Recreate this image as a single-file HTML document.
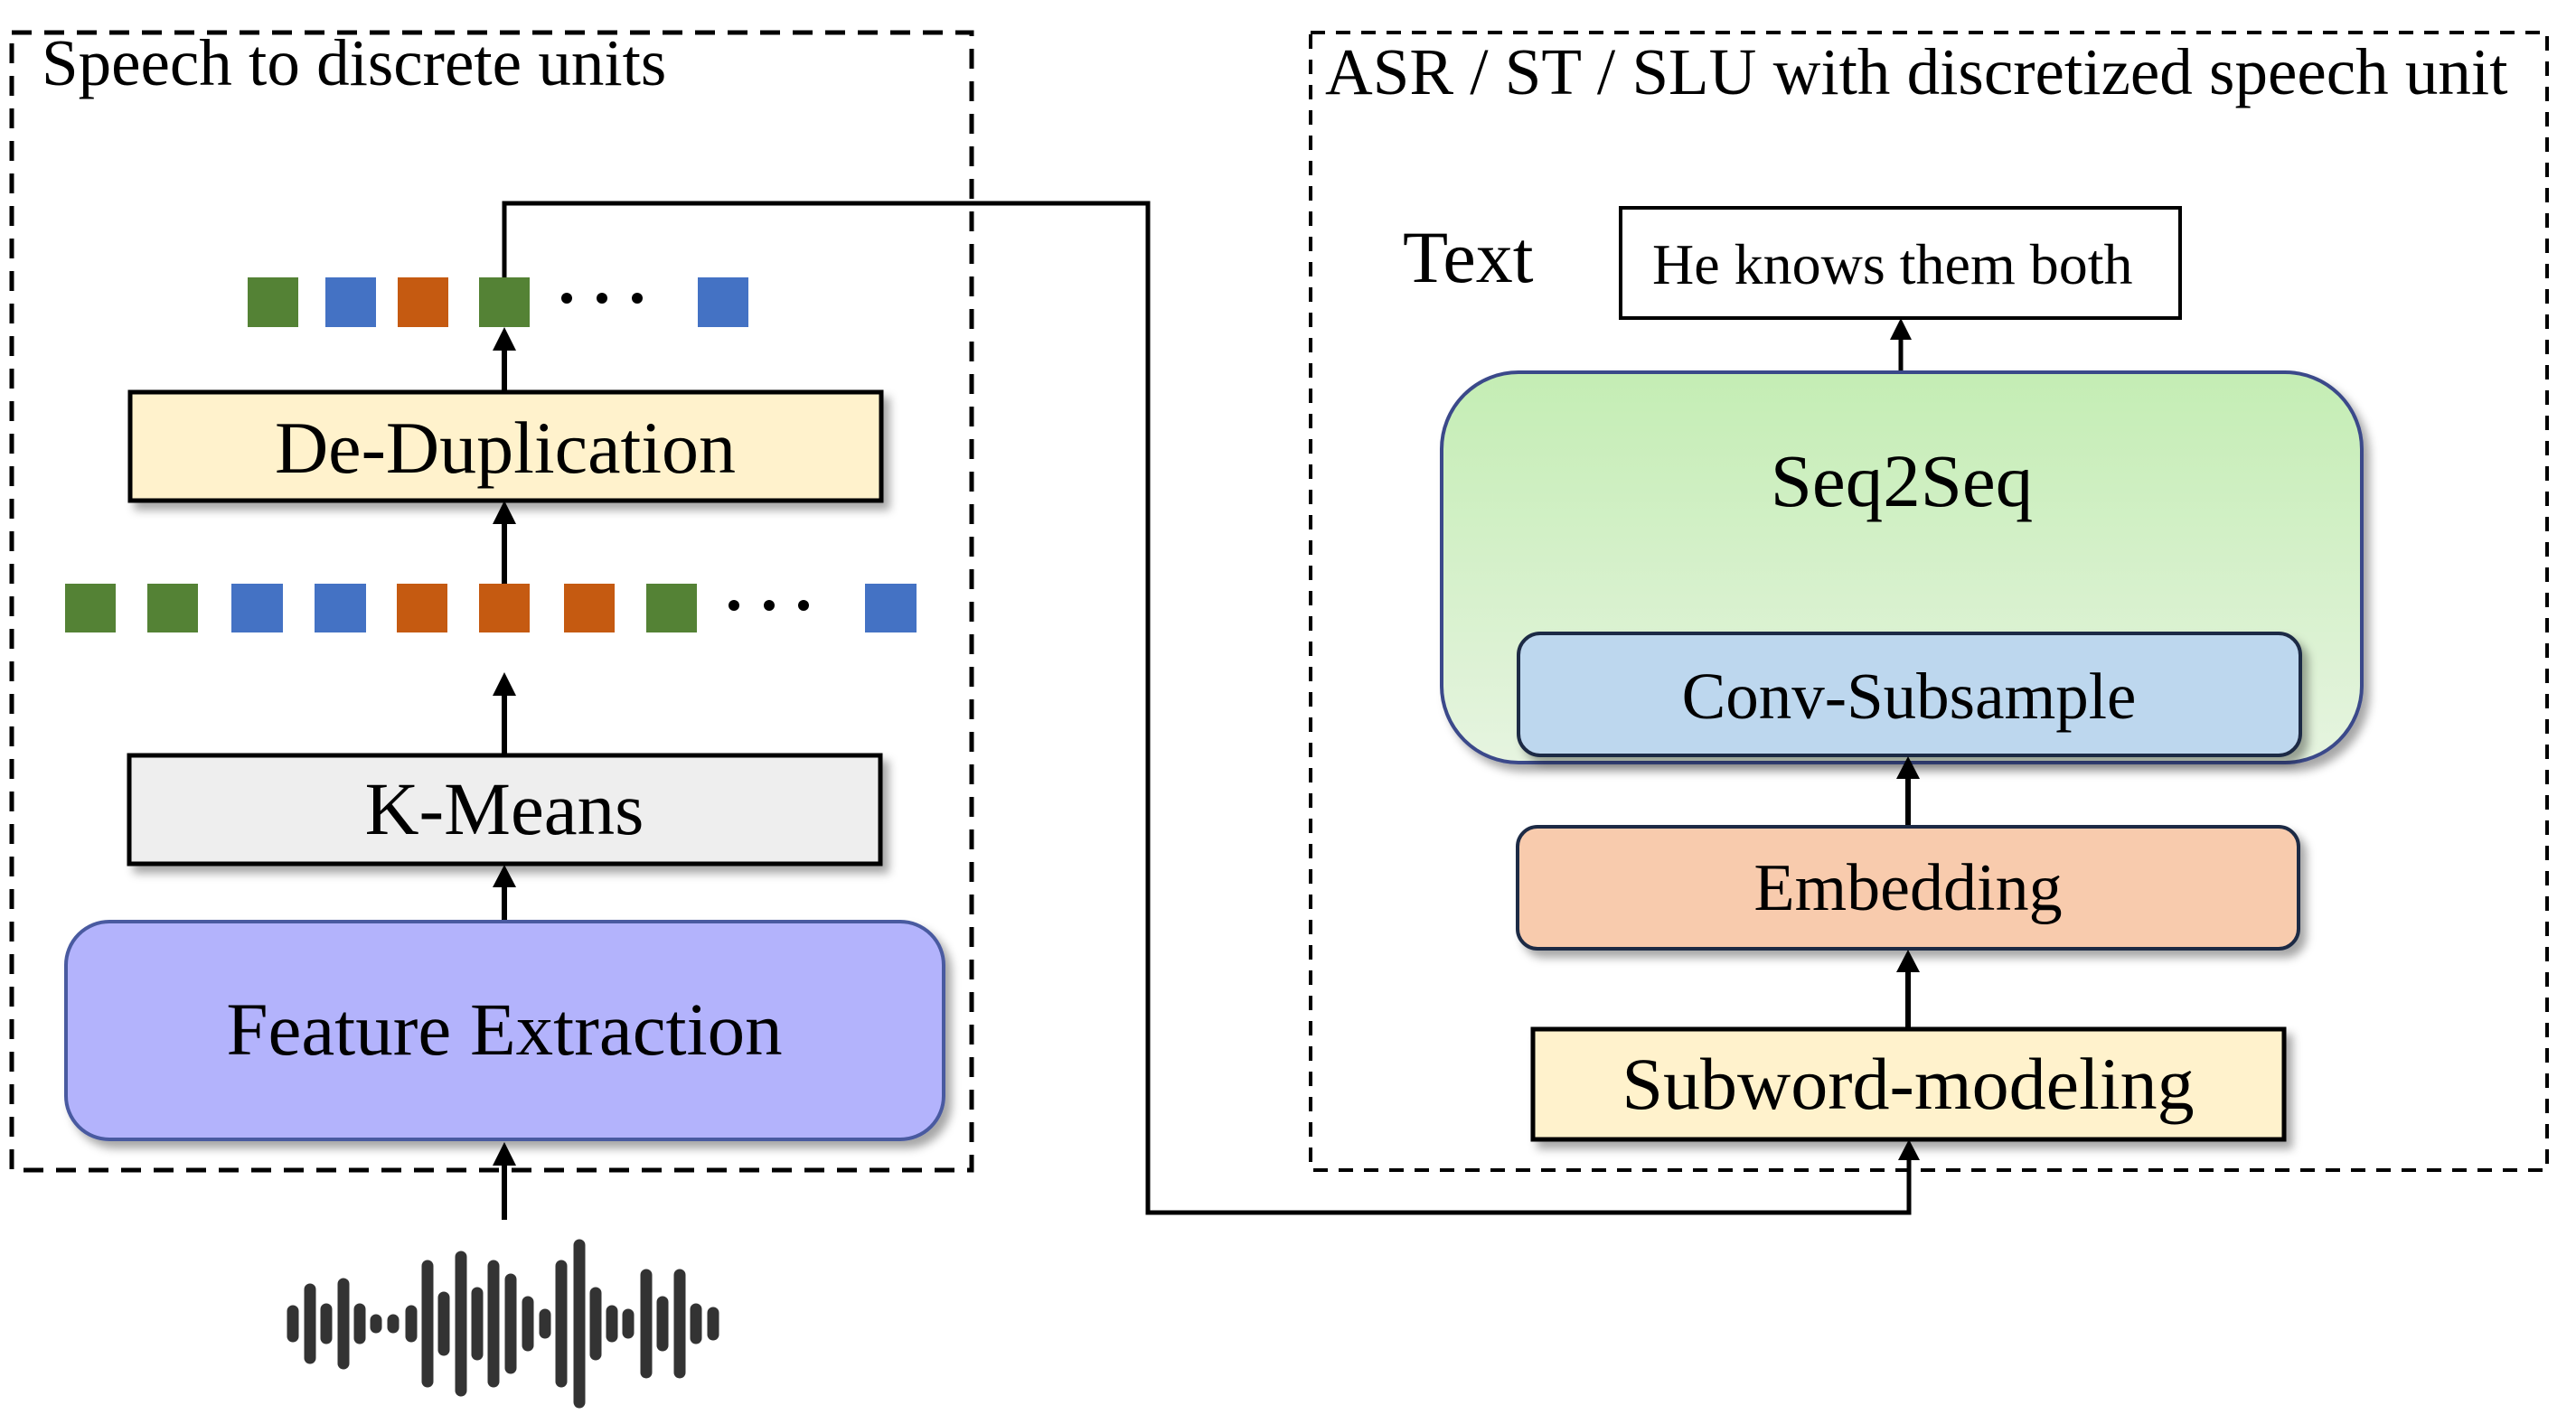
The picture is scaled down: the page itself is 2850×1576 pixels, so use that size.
<!DOCTYPE html>
<html><head><meta charset="utf-8"><style>
html,body{margin:0;padding:0;background:#fff;}
svg{display:block;}
text{font-family:"Liberation Serif",serif;fill:#000;}
</style></head><body>
<svg width="2850" height="1576" viewBox="0 0 2850 1576" xmlns="http://www.w3.org/2000/svg">
<defs>
<filter id="sh" x="-10%" y="-10%" width="130%" height="140%"><feDropShadow dx="7" dy="8" stdDeviation="5" flood-color="#000" flood-opacity="0.35"/></filter>
<linearGradient id="g1" x1="0" y1="0" x2="0" y2="1"><stop offset="0" stop-color="#c4edb4"/><stop offset="1" stop-color="#e6f4e0"/></linearGradient>
</defs>
<rect x="13" y="36" width="1062" height="1259" fill="none" stroke="#000" stroke-width="5" stroke-dasharray="22,14"/>
<rect x="1450" y="36" width="1368" height="1259" fill="none" stroke="#000" stroke-width="4" stroke-dasharray="16,12"/>
<text x="46" y="94" font-size="73">Speech to discrete units</text>
<text x="1466" y="104" font-size="73">ASR / ST / SLU with discretized speech unit</text>

<polyline points="558,307 558,225 1270,225 1270,1342 2112,1342 2112,1282" fill="none" stroke="#000" stroke-width="5"/>
<path d="M2100,1284 L2124,1284 L2112,1261 z"/>

<rect x="274" y="307" width="56" height="55" fill="#548235"/>
<rect x="360" y="307" width="56" height="55" fill="#4472c4"/>
<rect x="440" y="307" width="56" height="55" fill="#c55a11"/>
<rect x="530" y="307" width="56" height="55" fill="#548235"/>
<circle cx="627" cy="330" r="6"/><circle cx="666" cy="330" r="6"/><circle cx="705" cy="330" r="6"/>
<rect x="772" y="307" width="56" height="55" fill="#4472c4"/>

<line x1="558" y1="434" x2="558" y2="386" stroke="#000" stroke-width="6"/><path d="M545,388 L571,388 L558,362 z"/>
<line x1="558" y1="646" x2="558" y2="578" stroke="#000" stroke-width="6"/><path d="M545,580 L571,580 L558,554 z"/>
<line x1="558" y1="836" x2="558" y2="768" stroke="#000" stroke-width="6"/><path d="M545,770 L571,770 L558,744 z"/>
<line x1="558" y1="1020" x2="558" y2="980" stroke="#000" stroke-width="6"/><path d="M545,982 L571,982 L558,957 z"/>
<line x1="558" y1="1350" x2="558" y2="1288" stroke="#000" stroke-width="6"/><path d="M545,1290 L571,1290 L558,1264 z"/>

<rect x="144" y="434" width="831" height="120" fill="#fff2cc" stroke="#000" stroke-width="5" filter="url(#sh)"/>
<text x="559" y="523" font-size="82" text-anchor="middle">De-Duplication</text>

<rect x="72" y="646" width="56" height="54" fill="#548235"/>
<rect x="163" y="646" width="56" height="54" fill="#548235"/>
<rect x="256" y="646" width="57" height="54" fill="#4472c4"/>
<rect x="348" y="646" width="57" height="54" fill="#4472c4"/>
<rect x="439" y="646" width="56" height="54" fill="#c55a11"/>
<rect x="530" y="646" width="56" height="54" fill="#c55a11"/>
<rect x="624" y="646" width="56" height="54" fill="#c55a11"/>
<rect x="715" y="646" width="56" height="54" fill="#548235"/>
<circle cx="812" cy="670" r="6"/><circle cx="851" cy="670" r="6"/><circle cx="889" cy="670" r="6"/>
<rect x="957" y="646" width="57" height="54" fill="#4472c4"/>

<rect x="143" y="836" width="831" height="120" fill="#eeeeee" stroke="#000" stroke-width="5" filter="url(#sh)"/>
<text x="558" y="923" font-size="83" text-anchor="middle">K-Means</text>

<rect x="73" y="1020" width="971" height="241" rx="48" fill="#b3b3fc" stroke="#4a5aa0" stroke-width="4" filter="url(#sh)"/>
<text x="558" y="1167" font-size="83" text-anchor="middle">Feature Extraction</text>

<g stroke="#333" stroke-width="13" stroke-linecap="round">
<line x1="324" y1="1451" x2="324" y2="1479"/>
<line x1="343" y1="1427" x2="343" y2="1503"/>
<line x1="361" y1="1449" x2="361" y2="1481"/>
<line x1="380" y1="1421" x2="380" y2="1509"/>
<line x1="398" y1="1449" x2="398" y2="1481"/>
<line x1="416" y1="1461" x2="416" y2="1469"/>
<line x1="435" y1="1461" x2="435" y2="1469"/>
<line x1="455" y1="1451" x2="455" y2="1479"/>
<line x1="473" y1="1401" x2="473" y2="1529"/>
<line x1="491" y1="1436" x2="491" y2="1494"/>
<line x1="510" y1="1391" x2="510" y2="1539"/>
<line x1="528" y1="1431" x2="528" y2="1499"/>
<line x1="546" y1="1401" x2="546" y2="1529"/>
<line x1="565" y1="1416" x2="565" y2="1514"/>
<line x1="584" y1="1441" x2="584" y2="1489"/>
<line x1="603" y1="1455" x2="603" y2="1475"/>
<line x1="621" y1="1401" x2="621" y2="1529"/>
<line x1="641" y1="1378" x2="641" y2="1552"/>
<line x1="659" y1="1431" x2="659" y2="1499"/>
<line x1="677" y1="1451" x2="677" y2="1479"/>
<line x1="695" y1="1455" x2="695" y2="1475"/>
<line x1="715" y1="1411" x2="715" y2="1519"/>
<line x1="733" y1="1441" x2="733" y2="1489"/>
<line x1="752" y1="1411" x2="752" y2="1519"/>
<line x1="770" y1="1449" x2="770" y2="1481"/>
<line x1="789" y1="1453" x2="789" y2="1477"/>
</g>

<text x="1552" y="312" font-size="82">Text</text>
<rect x="1793" y="230" width="619" height="122" fill="#fff" stroke="#000" stroke-width="4"/>
<text x="1828" y="314" font-size="64">He knows them both</text>

<line x1="2103" y1="412" x2="2103" y2="374" stroke="#000" stroke-width="5"/><path d="M2091,376 L2115,376 L2103,352 z"/>

<rect x="1595" y="412" width="1018" height="432" rx="85" fill="url(#g1)" stroke="#3a4a8a" stroke-width="4" filter="url(#sh)"/>
<text x="2104" y="560" font-size="83" text-anchor="middle">Seq2Seq</text>
<rect x="1680" y="701" width="865" height="135" rx="24" fill="#bdd7ee" stroke="#1f2a44" stroke-width="4" filter="url(#sh)"/>
<text x="2112" y="795" font-size="73" text-anchor="middle">Conv-Subsample</text>

<line x1="2111" y1="915" x2="2111" y2="860" stroke="#000" stroke-width="6"/><path d="M2098,862 L2124,862 L2111,837 z"/>
<rect x="1679" y="915" width="864" height="135" rx="22" fill="#f8cbad" stroke="#1f2a44" stroke-width="4" filter="url(#sh)"/>
<text x="2111" y="1007" font-size="74" text-anchor="middle">Embedding</text>

<line x1="2111" y1="1139" x2="2111" y2="1074" stroke="#000" stroke-width="6"/><path d="M2098,1076 L2124,1076 L2111,1051 z"/>
<rect x="1696" y="1139" width="831" height="122" fill="#fff2cc" stroke="#000" stroke-width="5" filter="url(#sh)"/>
<text x="2111" y="1227" font-size="82" text-anchor="middle">Subword-modeling</text>
</svg>
</body></html>
